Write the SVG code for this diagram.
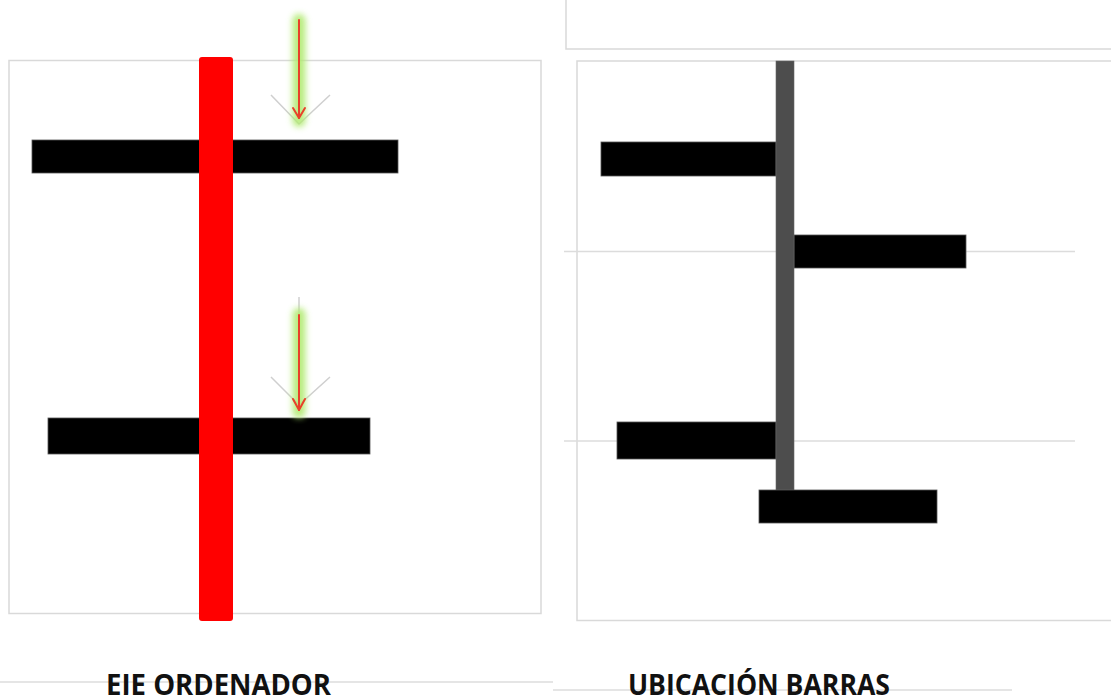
<svg xmlns="http://www.w3.org/2000/svg" width="1111" height="695" viewBox="0 0 1111 695">
  <defs>
    <style>
      .frame { fill: #ffffff; stroke: #d9d9d9; stroke-width: 1.5; }
      .bar { fill: #000000; stroke: #555555; stroke-width: 0.8; }
      .guide { stroke: #dcdcdc; stroke-width: 1.5; fill: none; }
      .vguide { stroke: #cfcfcf; stroke-width: 1.5; fill: none; }
      .arrow { stroke: #e8402a; stroke-width: 2; fill: none; stroke-linecap: round; stroke-linejoin: round; }
      .glow { fill: #b0ea70; opacity: 0.9; filter: url(#blur); }
      .label { font-family: "Open Sans", "Liberation Sans", sans-serif; font-weight: bold; font-size: 29px; fill: #111111; }
    </style>
    <filter id="blur" filterUnits="userSpaceOnUse" x="0" y="0" width="1111" height="695">
      <feGaussianBlur stdDeviation="3"/>
    </filter>
  </defs>
  <rect width="1111" height="695" fill="#ffffff"/>

  <g id="left-panel">
    <rect class="frame" x="9" y="60.5" width="532" height="553"/>
    <rect id="bar-top-left" class="bar" x="32" y="140" width="366" height="33"/>
    <rect id="bar-bottom-left" class="bar" x="48" y="418" width="322" height="36"/>
    <rect id="eje-ordenador" x="199" y="57" width="34" height="564" rx="3" fill="#ff0000"/>
  </g>

  <g id="connectors">
    <path class="vguide" d="M271,95 L299,124 L330,95"/>
    <rect class="glow" x="292.5" y="14" width="13" height="113" rx="6"/>
    <line class="arrow" x1="299" y1="20" x2="299" y2="118"/>
    <path class="arrow" d="M293,108 L299,118 L305,108"/>

    <line class="vguide" x1="299" y1="297" x2="299" y2="316"/>
    <path class="vguide" d="M271,377 L299,405 L330,377"/>
    <rect class="glow" x="292.5" y="308" width="13" height="110" rx="6"/>
    <line class="arrow" x1="299" y1="315" x2="299" y2="410"/>
    <path class="arrow" d="M293,399 L299,410 L305,399"/>
  </g>

  <g id="right-panel">
    <rect class="frame" x="566" y="-5" width="560" height="54"/>
    <rect class="frame" x="577" y="61" width="560" height="559.5"/>
    <line class="guide" x1="564" y1="251.5" x2="1075" y2="251.5"/>
    <line class="guide" x1="564" y1="441" x2="1075" y2="441"/>
    <rect id="bar-1" class="bar" x="601" y="142" width="175" height="34"/>
    <rect id="bar-2" class="bar" x="794" y="235" width="172" height="33"/>
    <rect id="bar-3" class="bar" x="617" y="422" width="159" height="37"/>
    <rect id="ubicacion-eje" x="776" y="61" width="18" height="429" fill="#4d4d4d" stroke="#666666" stroke-width="0.6"/>
    <rect id="bar-4" class="bar" x="759" y="490" width="178" height="33"/>
  </g>

  <g id="captions">
    <line class="guide" x1="0" y1="682" x2="553" y2="682"/>
    <line class="guide" x1="553" y1="690" x2="1012" y2="690"/>
    <text id="label-eje" class="label" x="106" y="695" textLength="225" lengthAdjust="spacingAndGlyphs">EJE  ORDENADOR</text>
    <text id="label-ubicacion" class="label" x="628" y="695" textLength="262" lengthAdjust="spacingAndGlyphs">UBICACIÓN BARRAS</text>
  </g>
</svg>
